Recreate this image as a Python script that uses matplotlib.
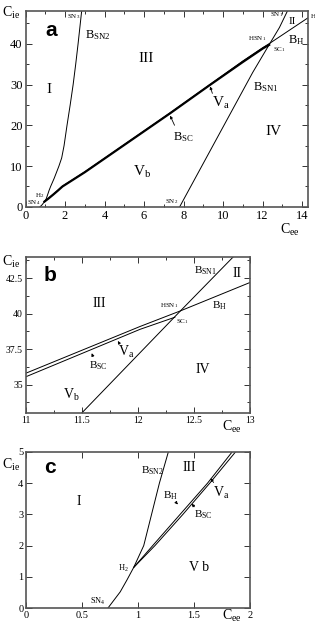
import matplotlib
matplotlib.use("Agg")
import matplotlib.pyplot as plt
from matplotlib.ticker import MultipleLocator, FormatStrFormatter

plt.rcParams['font.family'] = 'Liberation Serif'
plt.rcParams['mathtext.fontset'] = 'custom'
plt.rcParams['mathtext.rm'] = 'Liberation Serif'
plt.rcParams['mathtext.it'] = 'Liberation Serif'

# bifurcation curves (Cee, Cie)
bsn1_cee = [7.8, 11.5, 12.38, 12.85, 13.25]
bsn1_cie = [0.0, 33.0, 40.2, 44.0, 48.0]

bsn2_cee = [0.73, 0.84, 0.90, 0.96, 1.05, 1.12, 1.19, 1.27, 1.45, 1.69, 1.83, 1.95, 2.1, 2.26, 2.41, 2.54, 2.66, 2.84]
bsn2_cie = [0.0, 0.52, 0.9, 1.3, 2.0, 3.0, 4.0, 5.0, 7.0, 10.0, 12.0, 15.0, 20.0, 25.0, 30.0, 35.0, 40.0, 48.0]

bh_cee = [0.96, 1.13, 1.375, 1.62, 1.84, 3.0, 5.0, 7.3, 9.3, 11.0, 12.02, 12.38, 13.0, 14.3]
bh_cie = [1.3, 2.0, 3.0, 4.0, 5.0, 8.6, 15.3, 23.0, 29.9, 35.8, 39.1, 40.2, 42.2, 46.4]

bsc_cee = [0.96, 1.15, 1.40, 1.64, 1.87, 3.0, 5.0, 7.3, 9.3, 11.0, 12.02, 12.33]
bsc_cie = [1.3, 2.0, 3.0, 4.0, 5.0, 8.5, 15.2, 22.9, 29.8, 35.55, 38.9, 39.75]

fig = plt.figure(figsize=(3.15, 6.25), dpi=100)

ax_a = fig.add_axes([0.081, 0.669, 0.897, 0.313])
ax_b = fig.add_axes([0.081, 0.339, 0.713, 0.250])
ax_c = fig.add_axes([0.083, 0.027, 0.711, 0.250])


def style(ax, xlim, ylim, xmaj, xmin, ymaj, ymin, size):
    ax.set_xlim(*xlim)
    ax.set_ylim(*ylim)
    ax.xaxis.set_major_locator(MultipleLocator(xmaj))
    ax.yaxis.set_major_locator(MultipleLocator(ymaj))
    ax.xaxis.set_major_formatter(FormatStrFormatter('%g'))
    ax.yaxis.set_major_formatter(FormatStrFormatter('%g'))
    if xmin:
        ax.xaxis.set_minor_locator(MultipleLocator(xmin))
    if ymin:
        ax.yaxis.set_minor_locator(MultipleLocator(ymin))
    ax.tick_params(which='both', direction='in', top=True, right=True,
                   labelsize=size, width=0.7, colors='#333333', labelcolor='black')
    ax.tick_params(which='major', length=4, pad=2)
    ax.tick_params(which='minor', length=2.5)
    for s in ax.spines.values():
        s.set_linewidth(1.2)
        s.set_color('#555555')


thin = dict(color='black', lw=0.7)
arrow = dict(arrowstyle='-|>', lw=0.6, color='black', mutation_scale=4)

# ---- panel a
ax_a.plot(bsn1_cee, bsn1_cie, **thin)
ax_a.plot(bsn2_cee, bsn2_cie, **thin)
ax_a.plot(bh_cee, bh_cie, **thin)
ax_a.plot(bsc_cee, bsc_cie, color='black', lw=1.6)
style(ax_a, (0, 14.3), (0, 48), 2, 1, 10, 5, 9)

ax_a.text(0.07, 0.90, 'a', transform=ax_a.transAxes, family='Liberation Sans',
          weight='bold', fontsize=15, ha='left', va='center')
ax_a.text(1.2, 28.7, 'I', fontsize=11, ha='center', va='center')
ax_a.text(6.1, 36.5, 'III', fontsize=11, ha='center', va='center')
ax_a.text(12.55, 18.4, 'IV', fontsize=11, ha='center', va='center')
ax_a.text(13.5, 45.6, 'II', fontsize=8, ha='center', va='center')
ax_a.text(5.9, 8.6, r'V$_\mathrm{b}$', fontsize=11, ha='center', va='center')
ax_a.text(9.9, 25.5, r'V$_\mathrm{a}$', fontsize=11, ha='center', va='center')
ax_a.annotate('', xy=(9.3, 30.2), xytext=(9.5, 27.2), arrowprops=arrow)
ax_a.text(8.0, 17.0, r'B$_\mathrm{SC}$', fontsize=9, ha='center', va='center')
ax_a.annotate('', xy=(7.26, 23.0), xytext=(7.6, 19.4), arrowprops=arrow)
ax_a.text(3.0, 42.2, r'B$_\mathrm{SN2}$', fontsize=9, ha='left', va='center')
ax_a.text(11.5, 29.4, r'B$_\mathrm{SN1}$', fontsize=9, ha='left', va='center')
ax_a.text(13.3, 41.0, r'B$_\mathrm{H}$', fontsize=9, ha='left', va='center')
ax_a.text(12.2, 41.4, r'HSN$_1$', fontsize=5, ha='right', va='center')
ax_a.text(12.5, 38.6, r'SC$_1$', fontsize=5, ha='left', va='center')
ax_a.text(13.05, 47.1, r'SN$_1$', fontsize=5, ha='right', va='center')
ax_a.text(14.45, 46.8, 'H', fontsize=5, ha='left', va='center', clip_on=False)
ax_a.text(2.75, 46.6, r'SN$_3$', fontsize=5, ha='right', va='center')
ax_a.text(7.75, 1.3, r'SN$_2$', fontsize=5, ha='right', va='center')
ax_a.text(0.95, 2.9, r'H$_2$', fontsize=5, ha='right', va='center')
ax_a.text(0.75, 1.0, r'SN$_4$', fontsize=5, ha='right', va='center')

# ---- panel b
ax_b.plot(bsn1_cee, bsn1_cie, **thin)
ax_b.plot(bh_cee, bh_cie, **thin)
ax_b.plot(bsc_cee, bsc_cie, **thin)
style(ax_b, (11, 13), (33, 44), 0.5, 0.25, 2.5, 1.25, 7)
ax_b.text(0.08, 0.88, 'b', transform=ax_b.transAxes, family='Liberation Sans',
          weight='bold', fontsize=15, ha='left', va='center')
ax_b.text(11.66, 40.75, 'III', fontsize=10, ha='center', va='center')
ax_b.text(12.58, 36.1, 'IV', fontsize=10, ha='center', va='center')
ax_b.text(12.88, 42.8, 'II', fontsize=10, ha='center', va='center')
ax_b.text(11.41, 34.3, r'V$_\mathrm{b}$', fontsize=10, ha='center', va='center')
ax_b.text(11.9, 37.3, r'V$_\mathrm{a}$', fontsize=10, ha='center', va='center')
ax_b.annotate('', xy=(11.81, 38.25), xytext=(11.85, 37.7), arrowprops=arrow)
ax_b.text(11.65, 36.35, r'B$_\mathrm{SC}$', fontsize=8, ha='center', va='center')
ax_b.annotate('', xy=(11.58, 37.4), xytext=(11.61, 36.8), arrowprops=arrow)
ax_b.text(12.6, 43.0, r'B$_\mathrm{SN1}$', fontsize=8, ha='center', va='center')
ax_b.text(12.73, 40.55, r'B$_\mathrm{H}$', fontsize=8, ha='center', va='center')
ax_b.text(12.36, 40.6, r'HSN$_1$', fontsize=5, ha='right', va='center')
ax_b.text(12.34, 39.45, r'SC$_1$', fontsize=5, ha='left', va='center')

# ---- panel c
ax_c.plot(bsn2_cee, bsn2_cie, **thin)
ax_c.plot(bh_cee, bh_cie, **thin)
ax_c.plot(bsc_cee, bsc_cie, **thin)
style(ax_c, (0, 2), (0, 5), 0.5, None, 1, None, 7.5)
ax_c.text(0.08, 0.90, 'c', transform=ax_c.transAxes, family='Liberation Sans',
          weight='bold', fontsize=15, ha='left', va='center')
ax_c.text(0.47, 3.4, 'I', fontsize=10, ha='center', va='center')
ax_c.text(1.46, 4.5, 'III', fontsize=10, ha='center', va='center')
ax_c.text(1.54, 1.3, 'V b', fontsize=10, ha='center', va='center')
ax_c.text(1.74, 3.7, r'V$_\mathrm{a}$', fontsize=10, ha='center', va='center')
ax_c.annotate('', xy=(1.63, 4.22), xytext=(1.69, 3.95), arrowprops=arrow)
ax_c.text(1.13, 4.4, r'B$_\mathrm{SN2}$', fontsize=8, ha='center', va='center')
ax_c.text(1.29, 3.6, r'B$_\mathrm{H}$', fontsize=8, ha='center', va='center')
ax_c.annotate('', xy=(1.37, 3.25), xytext=(1.33, 3.42), arrowprops=arrow)
ax_c.text(1.58, 3.0, r'B$_\mathrm{SC}$', fontsize=8, ha='center', va='center')
ax_c.annotate('', xy=(1.46, 3.4), xytext=(1.52, 3.18), arrowprops=arrow)
ax_c.text(0.92, 1.28, r'H$_2$', fontsize=6, ha='right', va='center')
ax_c.text(0.71, 0.22, r'SN$_4$', fontsize=6, ha='right', va='center')

# axis labels as figure text
for ypix in (13, 262, 465):
    fig.text(2 / 315, 1 - ypix / 625, r'C$_\mathrm{ie}$', fontsize=10, ha='left', va='center')
for xpix, ypix in ((290, 230), (232, 427), (232, 616)):
    fig.text(xpix / 315, 1 - ypix / 625, r'C$_\mathrm{ee}$', fontsize=10, ha='center', va='center')

fig.savefig('out.png', dpi=100)
